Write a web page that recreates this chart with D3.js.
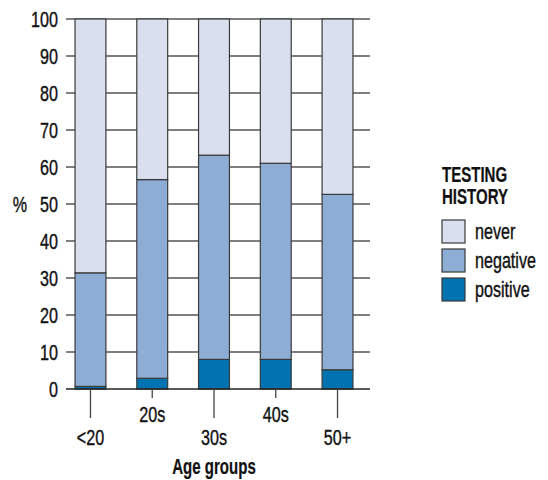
<!DOCTYPE html>
<html><head><meta charset="utf-8">
<script src="https://cdn.jsdelivr.net/npm/d3@7"></script>
<style>
body{margin:0;background:#fff;}
text{font-family:"Liberation Sans",Arial,sans-serif;fill:#111;}
</style></head>
<body><svg id="c" width="548" height="480"></svg>
<script>
const categories = ["<20","20s","30s","40s","50+"];
const positive = [0.7, 2.9, 8.0, 8.0, 5.2];
const negative = [30.7, 53.7, 55.2, 53.0, 47.4];
const never = [68.6, 43.4, 36.8, 39.0, 47.4];
const seriesNames = ["positive","negative","never"];
const legendOrder = ["never","negative","positive"];
const yTicks = [0,10,20,30,40,50,60,70,80,90,100];
const colors = {never:"#d9dfef", negative:"#8eadd4", positive:"#0073b0"};

const svg = d3.select("#c");
const x = d3.scaleBand().domain(categories).range([59.6,368.4]).paddingInner(0.5).paddingOuter(0.25);
const y = d3.scaleLinear().domain([0,100]).range([389,19]);
const plotL = 66, plotR = 370;

// condensed text helper (reference face is a condensed sans)
function txt(g, tx, ty, s, anchor, bold){
  return g.append("text")
    .attr("transform",`translate(${tx},${ty}) scale(${bold?0.7:0.75},1)`)
    .attr("text-anchor",anchor||"start")
    .style("font-size","21.5px").style("font-weight",bold?"bold":"normal")
    .style("stroke","#111").style("stroke-width",bold?0.2:0.4)
    .text(s);
}

const rows = categories.map((c,i)=>({cat:c, positive:positive[i], negative:negative[i], never:never[i]}));
const stack = d3.stack().keys(seriesNames)(rows);

// grid
svg.append("g").selectAll("line").data(yTicks.filter(d=>d>0)).join("line")
  .attr("x1",plotL).attr("x2",plotR).attr("y1",d=>y(d)).attr("y2",d=>y(d))
  .attr("stroke","#555").attr("stroke-width",1.3);

// y labels
const yl = svg.append("g");
yTicks.forEach(d=>txt(yl, 58, y(d)+8, d, "end"));

// bars
svg.append("g").selectAll("g").data(stack).join("g")
  .attr("fill",d=>colors[d.key])
  .selectAll("rect").data(d=>d).join("rect")
  .attr("x",d=>x(d.data.cat)).attr("width",x.bandwidth())
  .attr("y",d=>y(d[1])).attr("height",d=>y(d[0])-y(d[1]))
  .attr("stroke","#3a3a3a").attr("stroke-width",1.2);

// baseline
svg.append("line").attr("x1",plotL).attr("x2",plotR).attr("y1",y(0)).attr("y2",y(0))
  .attr("stroke","#222").attr("stroke-width",1.5);

// x ticks staggered
const xg = svg.append("g");
categories.forEach((c,i)=>{
  const cx = x(c)+x.bandwidth()/2;
  const long = i%2===0;
  xg.append("line").attr("x1",cx).attr("x2",cx).attr("y1",y(0)).attr("y2",long?418:398)
    .attr("stroke","#444").attr("stroke-width",1.3);
  txt(xg, cx, long?445:422, c, "middle");
});

txt(svg, 214, 474, "Age groups", "middle", true);
txt(svg, 20, 212, "%", "middle");

// legend
const lg = svg.append("g");
txt(lg, 442, 182, "TESTING", "start", true);
txt(lg, 442, 204, "HISTORY", "start", true);
legendOrder.forEach((k,i)=>{
  const yy = 220 + i*29;
  lg.append("rect").attr("x",442).attr("y",yy).attr("width",23).attr("height",23)
    .attr("fill",colors[k]).attr("stroke","#3a3a3a").attr("stroke-width",1.2);
  txt(lg, 475, yy+19, k, "start");
});
</script></body></html>
